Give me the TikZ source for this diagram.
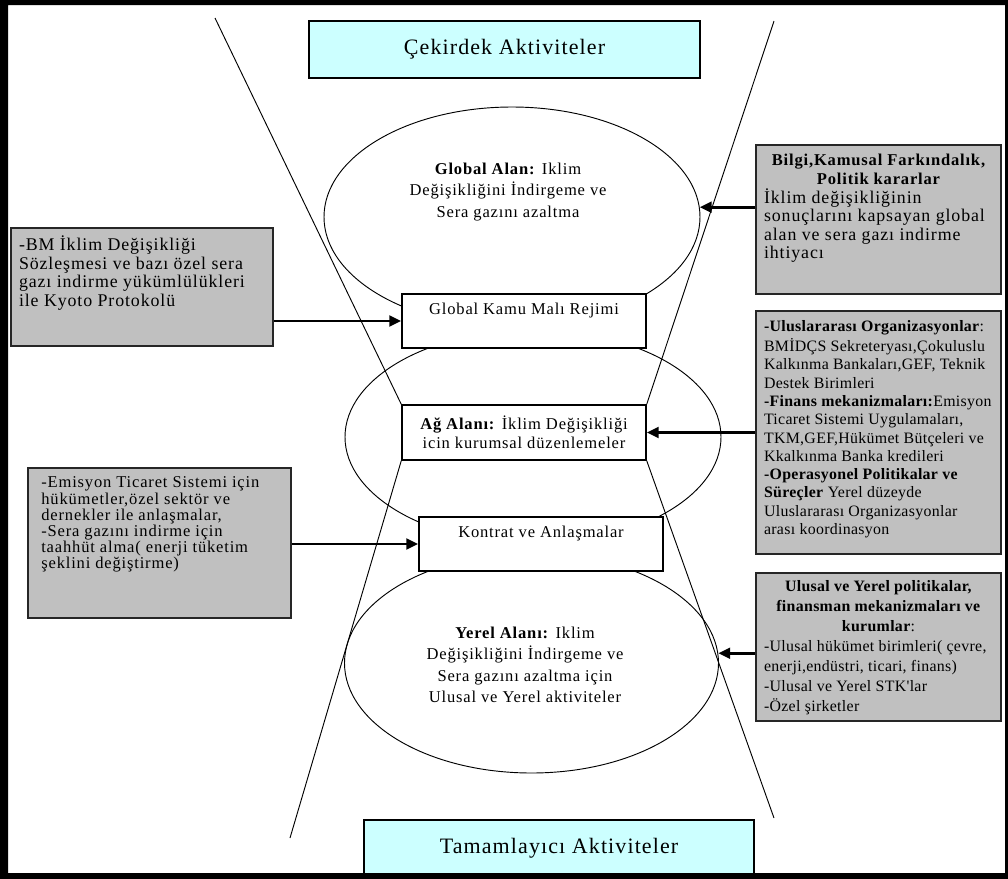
\documentclass[tikz,border=0pt]{standalone}
\usepackage{fontspec}
\setmainfont{Liberation Serif}[LetterSpace=5]
\newfontfamily\narrowfont{Liberation Serif}[LetterSpace=2]
\usepackage{xcolor}
\usetikzlibrary{arrows.meta,shapes.geometric,positioning}
\definecolor{coreblue}{HTML}{CCFFFF}
\definecolor{boxgray}{HTML}{C0C0C0}

\begin{document}
\begin{tikzpicture}[
    x=0.75pt, y=-0.75pt,
    headbox/.style={
      rectangle, draw=black, line width=1.5pt, fill=coreblue,
      minimum width=293pt, minimum height=42.75pt,
      font=\fontsize{16.5}{19}\selectfont
    },
    field/.style={ellipse, draw=black, line width=0.7pt, inner sep=0pt},
    fieldtext/.style={align=center, font=\fontsize{12.4}{16}\selectfont},
    regime/.style={
      rectangle, draw=black, line width=1.1pt, fill=white, align=center,
      minimum width=183pt, minimum height=40.5pt,
      font=\fontsize{12.4}{14.5}\selectfont
    },
    graybox/.style={
      rectangle, draw=black!85, line width=1.5pt, fill=boxgray,
      anchor=north west, inner xsep=6pt, inner ysep=6pt,
      font=\fontsize{13.4}{13.9}\selectfont
    },
    hourglass/.style={line width=0.7pt},
    arrow/.style={-{Triangle[length=9pt,width=8pt]}, line width=2.2pt}
  ]
  \useasboundingbox (0,0) rectangle (1008,879);

  % the three fields
  \node[field, minimum width=282pt, minimum height=165pt] (globalE) at (512,217) {};
  \node[field, minimum width=282pt, minimum height=160.5pt] (agE) at (533,437) {};
  \node[field, minimum width=280.5pt, minimum height=165pt] (yerelE) at (531.5,663) {};

  \node[headbox] (cekirdek) at (504.5,49.5) {Çekirdek Aktiviteler};
  \node[headbox] (tamam) at (559,848.5) {Tamamlayıcı Aktiviteler};

  \node[regime] (kamu) at (524,321) {Global Kamu Malı Rejimi\\\strut};
  \node[regime, minimum height=41.25pt] (ag) at (524,432.5)
    {\textbf{Ağ Alanı:} İklim Değişikliği\\icin kurumsal düzenlemeler};
  \node[regime] (kontrat) at (541,544) {Kontrat ve Anlaşmalar\\\strut};

  \node[fieldtext] (globalT) at (508,192)
    {\textbf{Global Alan:} Iklim\\Değişikliğini İndirgeme ve\\Sera gazını azaltma};
  \node[fieldtext] (yerelT) at (525,665)
    {\textbf{Yerel Alanı:} Iklim\\Değişikliğini İndirgeme ve\\Sera gazını azaltma için\\Ulusal ve Yerel aktiviteler};

  % left side
  \node[graybox] (bm) at (10,227) {\parbox[c][76.5pt][t]{184.5pt}{\raggedright\strut
    -BM İklim Değişikliği\\Sözleşmesi ve bazı özel sera\\gazı indirme yükümlülükleri\\ile Kyoto Protokolü}};
  \node[graybox, inner xsep=10pt, font=\fontsize{12.4}{12}\selectfont] (emis) at (27,467)
    {\parbox[c][100.5pt][t]{177.25pt}{\raggedright\strut
    -Emisyon Ticaret Sistemi için\\hükümetler,özel sektör ve\\dernekler ile anlaşmalar,\\-Sera gazını indirme için\\taahhüt alma( enerji tüketim\\şeklini değiştirme)}};

  % right side
  \node[graybox] (bilgi) at (755,144) {\parbox[c][99.75pt][t]{171.75pt}{\strut
    {\centering\bfseries\fontsize{12.4}{13.9}\selectfont Bilgi,Kamusal Farkındalık,\\Politik kararlar\par}%
    \raggedright İklim değişikliğinin\\sonuçlarını kapsayan global\\alan ve sera gazı indirme\\ihtiyacı}};
  \node[graybox, font=\narrowfont\fontsize{11.9}{13.7}\selectfont] (orgs) at (755,310)
    {\parbox[c][170.25pt][t]{171.75pt}{\raggedright\strut
    \textbf{-Uluslararası Organizasyonlar}:\\BMİDÇS Sekreteryası,Çokuluslu\\
    Kalkınma Bankaları,GEF, Teknik\\Destek Birimleri\\
    \textbf{-Finans mekanizmaları:}Emisyon\\Ticaret Sistemi Uygulamaları,\\
    TKM,GEF,Hükümet Bütçeleri ve\\Kkalkınma Banka kredileri\\
    \textbf{-Operasyonel Politikalar ve}\\\textbf{Süreçler} Yerel düzeyde\\
    Uluslararası Organizasyonlar\\arası koordinasyon}};
  \node[graybox, inner ysep=3pt, font=\narrowfont\fontsize{11.9}{15}\selectfont] (ulusal) at (755,572)
    {\parbox[c][105pt][t]{171.75pt}{\strut
    {\centering\textbf{Ulusal ve Yerel politikalar,}\\\textbf{finansman mekanizmaları ve}\\\textbf{kurumlar}:\par}%
    \raggedright -Ulusal hükümet birimleri( çevre,\\enerji,endüstri, ticari, finans)\\
    -Ulusal ve Yerel STK'lar\\-Özel şirketler}};

  % hourglass
  \coordinate (lt) at (215,18);
  \coordinate (rt) at (774,21);
  \coordinate (lb) at (290,838);
  \coordinate (rb) at (774,818);
  \draw[hourglass] (lt) -- (ag.north west);
  \draw[hourglass] (rt) -- (ag.north east);
  \draw[hourglass] (ag.south west) -- (lb);
  \draw[hourglass] (ag.south east) -- (rb);

  \draw[arrow] (bilgi.west |- globalE.3) -- (globalE.3);
  \draw[arrow] (orgs.west) -- (orgs.west -| ag.east);
  \draw[arrow] (ulusal.west |- yerelE.3) -- (yerelE.3);
  \draw[arrow] (bm.east |- kamu.west) -- (kamu.west);
  \draw[arrow] (emis.east |- kontrat.west) -- (kontrat.west);

  \fill[even odd rule] (0,0) rectangle (1008,879) (8,5) rectangle (1005,873);
\end{tikzpicture}
\end{document}
